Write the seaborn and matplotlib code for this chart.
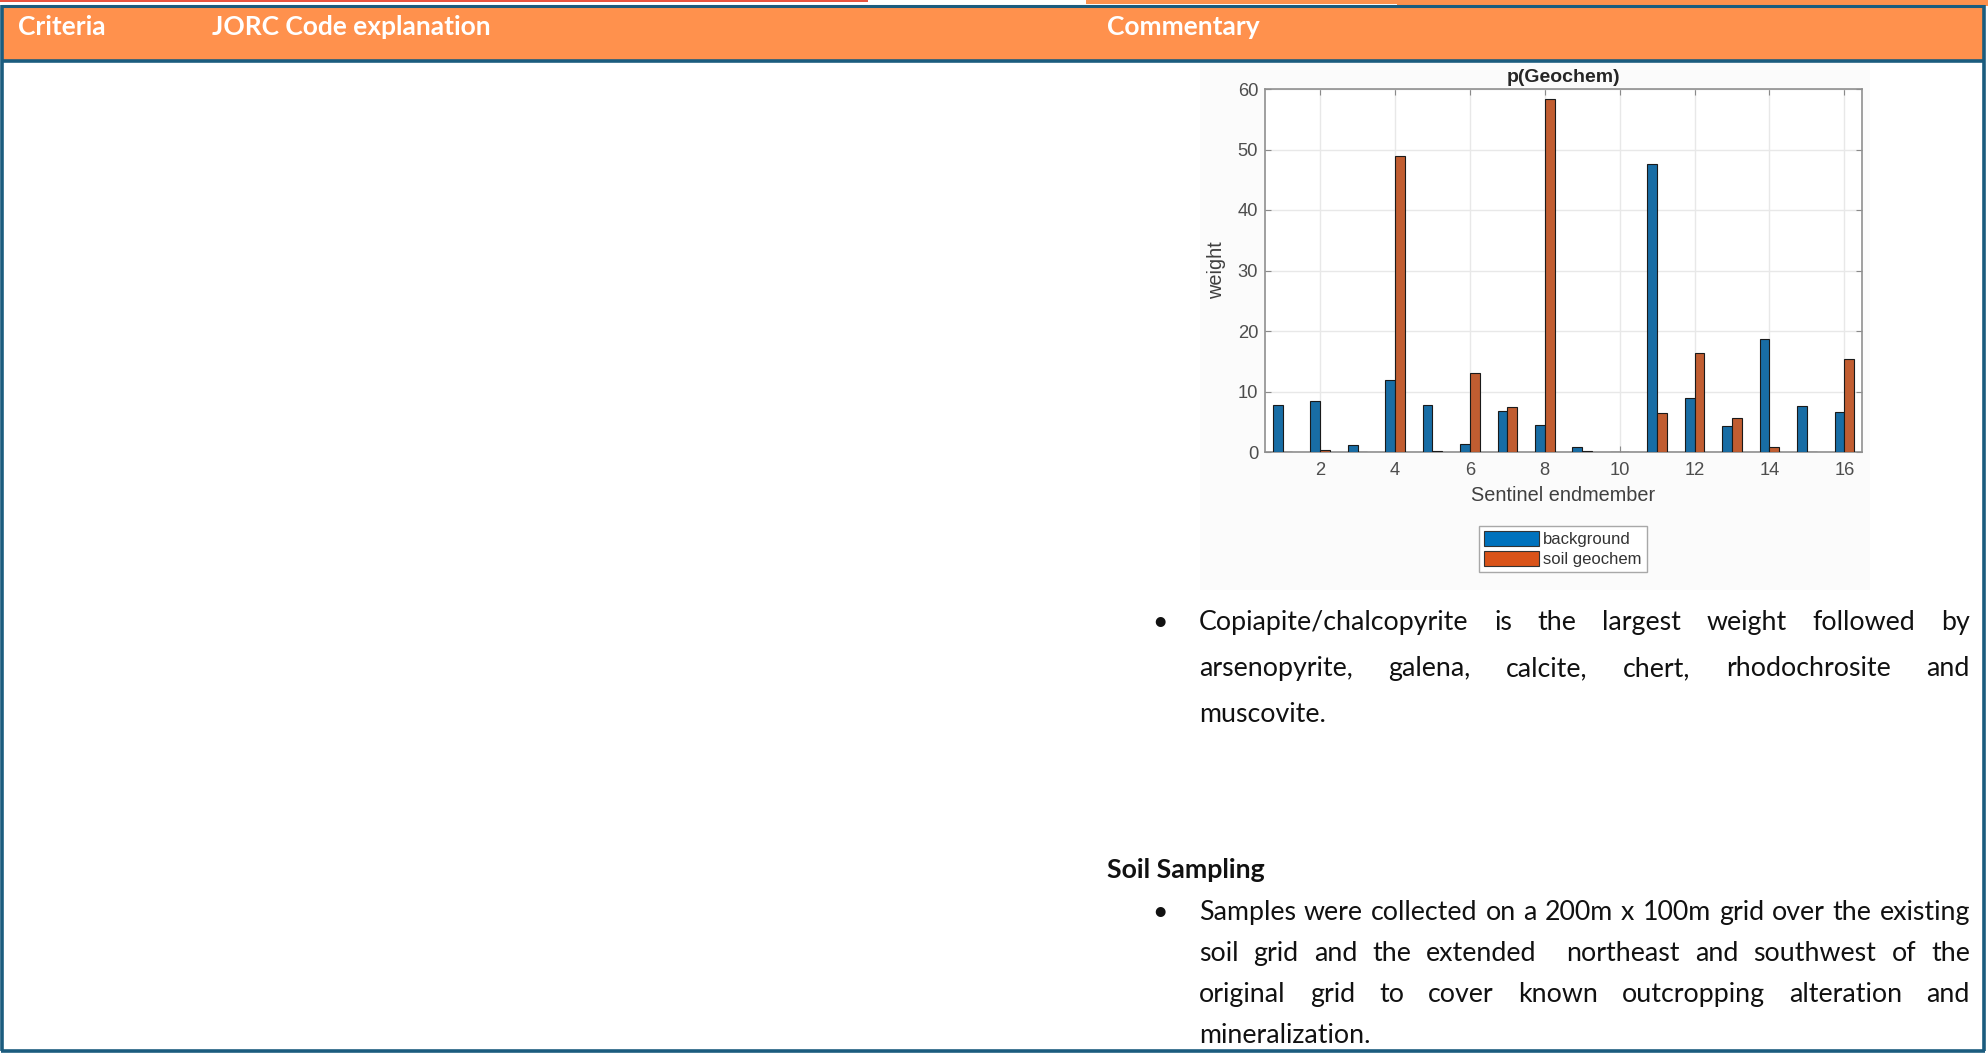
import matplotlib
matplotlib.use("Agg")
import matplotlib.pyplot as plt
import seaborn as sns
import pandas as pd
from matplotlib.patches import Rectangle, Patch

# ---- chart data -------------------------------------------------------------
endmembers = list(range(1, 17))
background = [7.8, 8.4, 1.1, 11.9, 7.8, 1.4, 6.7, 4.5, 0.8, 0.0, 47.6, 8.9, 4.3, 18.7, 7.6, 6.6]
soil_geochem = [0.0, 0.3, 0.0, 48.9, 0.2, 13.0, 7.5, 58.3, 0.1, 0.0, 6.4, 16.4, 5.7, 0.8, 0.0, 15.3]
series_names = ["background", "soil geochem"]
x_tick_values = [2, 4, 6, 8, 10, 12, 14, 16]
y_tick_values = [0, 10, 20, 30, 40, 50, 60]

# ---- page text --------------------------------------------------------------
header_labels = ["Criteria", "JORC Code explanation", "Commentary"]
bullet_one = [
    "Copiapite/chalcopyrite is the largest weight followed by",
    "arsenopyrite, galena, calcite, chert, rhodochrosite and",
    "muscovite.",
]
section_title = "Soil Sampling"
bullet_two = [
    "Samples were collected on a 200m x 100m grid over the existing",
    "soil grid and the extended  northeast and southwest of the",
    "original grid to cover known outcropping alteration and",
    "mineralization.",
]

BLUE, ORANGE = "#0072BD", "#D95319"
HEADER_ORANGE = "#FF914D"
BORDER = "#1B5C7E"
BODY_FONT = ["Lato", "DejaVu Sans"]

plt.rcParams["font.family"] = ["Liberation Sans", "DejaVu Sans"]

W, H, DPI = 1988, 1057, 100
fig = plt.figure(figsize=(W / DPI, H / DPI), dpi=DPI)
fig.patch.set_facecolor("white")

# Full-page layer in pixel units (y grows downward)
page = fig.add_axes([0, 0, 1, 1], zorder=0)
page.set_xlim(0, W)
page.set_ylim(H, 0)
page.axis("off")

# strip left over from the previous table row
page.add_patch(Rectangle((0, 0), 868, 1.5, color="#E8533F", lw=0))
page.add_patch(Rectangle((1086, 0), 311, 4, color=HEADER_ORANGE, lw=0))
page.add_patch(Rectangle((1397, 0), W - 1397, 5.5, color=HEADER_ORANGE, lw=0))

# header band
page.add_patch(Rectangle((3, 6.5), 1980, 53, color=HEADER_ORANGE, lw=0))
page.plot([1.5, 1984], [6, 6], color=BORDER, lw=2.2, solid_capstyle="butt")
page.plot([1.5, 1984], [60.5, 60.5], color=BORDER, lw=2.6, solid_capstyle="butt")
# outer table border
page.plot([1.8, 1.8], [5, 1051], color=BORDER, lw=2.6, solid_capstyle="butt")
page.plot([1983.5, 1983.5], [5, 1051], color=BORDER, lw=2.6, solid_capstyle="butt")
page.plot([0.5, 1985], [1050.5, 1050.5], color=BORDER, lw=2.6, solid_capstyle="butt")

for label, x in zip(header_labels, [18, 212, 1107]):
    page.text(x, 35, label, color="white", fontsize=19, fontweight="bold",
              family=BODY_FONT, va="baseline", ha="left")

# faint backdrop of the embedded figure
page.add_patch(Rectangle((1200, 63), 670, 527, color="#fbfbfb", lw=0))

renderer = fig.canvas.get_renderer()
BODY_SIZE = 19.3


def text_line(line, x0, x1, y, justify=True, size=BODY_SIZE):
    if not justify:
        page.text(x0, y, line, fontsize=size, family=BODY_FONT, va="baseline",
                  ha="left", color="#111111")
        return
    words = line.split(" ")
    arts = [page.text(0, y, w, fontsize=size, family=BODY_FONT, va="baseline",
                      ha="left", color="#111111") for w in words]
    widths = [a.get_window_extent(renderer).width if w else 0.0
              for a, w in zip(arts, words)]
    gap = (x1 - x0 - sum(widths)) / (len(words) - 1)
    x = x0
    for a, w in zip(arts, widths):
        a.set_x(x)
        x += w + gap


TEXT_L, TEXT_R, BULLET_X = 1199, 1970, 1160


def paragraph(lines, baselines):
    page.text(BULLET_X, baselines[0], "\u2022", fontsize=BODY_SIZE, family=BODY_FONT,
              va="baseline", ha="center", color="#111111")
    for i, (ln, yb) in enumerate(zip(lines, baselines)):
        text_line(ln, TEXT_L, TEXT_R, yb, justify=(i < len(lines) - 1))


paragraph(bullet_one, [630, 676, 722])
page.text(1107, 878, section_title, fontsize=BODY_SIZE, fontweight="bold",
          family=BODY_FONT, va="baseline", ha="left", color="#111111")
paragraph(bullet_two, [920, 961, 1002, 1043])

# ---- bar chart --------------------------------------------------------------
df = pd.DataFrame({
    "endmember": endmembers * 2,
    "weight": background + soil_geochem,
    "series": [series_names[0]] * len(endmembers) + [series_names[1]] * len(endmembers),
})

ax = fig.add_axes([1265 / W, 1 - 452 / H, 597 / W, 363 / H], zorder=2)
ax.set_facecolor("white")
sns.barplot(data=df, x="endmember", y="weight", hue="series", order=endmembers,
            hue_order=series_names, palette=[BLUE, ORANGE], width=0.52,
            dodge=True, errorbar=None, edgecolor="#1a1a1a", linewidth=0.8,
            legend=False, ax=ax, zorder=3)

ax.set_xlim(0.53 - 1, 16.47 - 1)
ax.set_ylim(0, 60)
ax.set_xticks([v - 1 for v in x_tick_values], labels=[str(v) for v in x_tick_values])
ax.set_yticks(y_tick_values)
ax.grid(True, color="#e8e8e8", lw=1)
ax.set_axisbelow(True)
ax.tick_params(direction="in", length=4, width=0.8, color="#8a8a8a",
               top=True, right=True, labelsize=13.2, labelcolor="#4d4d4d")
ax.tick_params(axis="x", pad=7)
ax.tick_params(axis="y", pad=5)
for sp in ax.spines.values():
    sp.set_color("#8f8f8f")
    sp.set_linewidth(1.2)

ax.set_title("p(Geochem)", fontsize=14, fontweight="bold", color="#262626", pad=5)
ax.set_xlabel("Sentinel endmember", fontsize=14.3, color="#404040")
ax.set_ylabel("weight", fontsize=14.3, color="#404040")
ax.xaxis.set_label_coords(0.5, -0.094)
ax.yaxis.set_label_coords(-0.066, 0.5)

handles = [Patch(facecolor=c, edgecolor="#333333", lw=0.8) for c in (BLUE, ORANGE)]
leg = fig.legend(handles, series_names, loc="center",
                 bbox_to_anchor=(1563 / W, 1 - 549 / H), fontsize=12,
                 handlelength=3.3, handleheight=1.0, handletextpad=0.25,
                 labelspacing=0.25, borderpad=0.3, fancybox=False,
                 edgecolor="#a8a8a8", framealpha=1, facecolor="white")
leg.get_frame().set_linewidth(1.0)
for t in leg.get_texts():
    t.set_color("#333333")

fig.savefig("out.png", dpi=DPI, facecolor="white")
